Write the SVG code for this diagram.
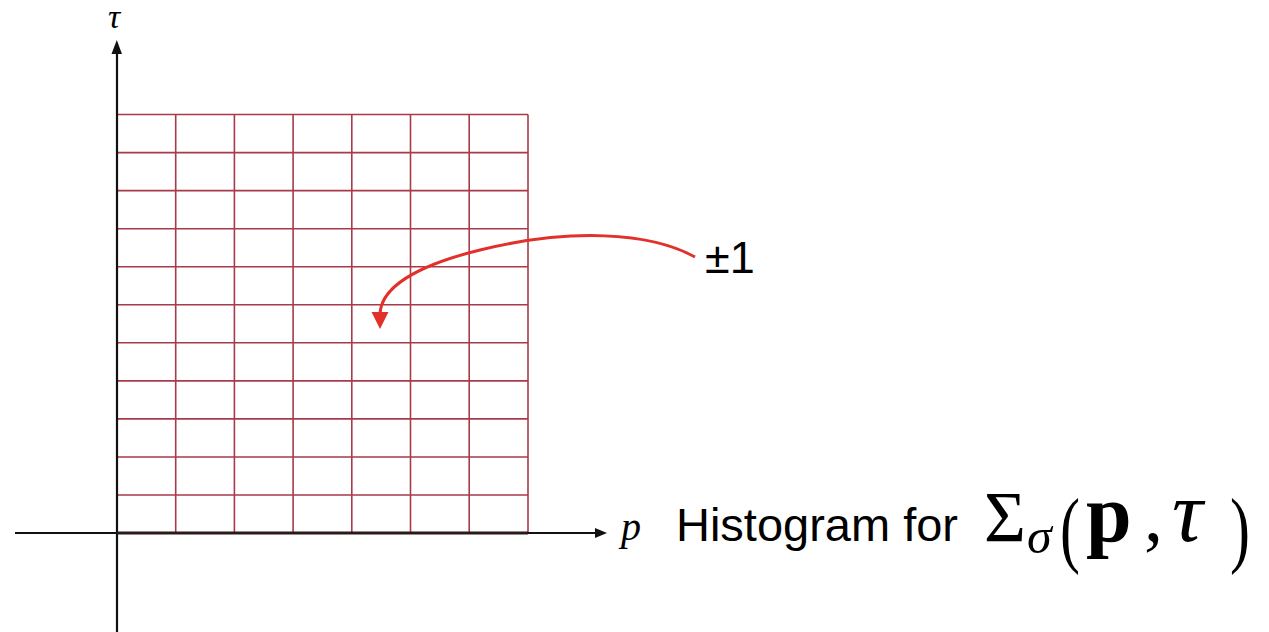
<svg xmlns="http://www.w3.org/2000/svg" width="1269" height="632" viewBox="0 0 1269 632">
<style>
.grid line{stroke:#a83a4a;stroke-width:1.6}
.axis{stroke:#111;stroke-width:2.2;fill:none}
.lbl{font-family:"Liberation Sans",Arial,sans-serif;fill:#000}
.math{font-family:"Liberation Serif","DejaVu Serif",serif;fill:#000}
</style>
<rect width="1269" height="632" fill="#fff"/>
<g id="grid" class="grid">
<line x1="117" y1="114.5" x2="528" y2="114.5"/>
<line x1="117" y1="152.6" x2="528" y2="152.6"/>
<line x1="117" y1="190.6" x2="528" y2="190.6"/>
<line x1="117" y1="228.7" x2="528" y2="228.7"/>
<line x1="117" y1="266.7" x2="528" y2="266.7"/>
<line x1="117" y1="304.8" x2="528" y2="304.8"/>
<line x1="117" y1="342.8" x2="528" y2="342.8"/>
<line x1="117" y1="380.9" x2="528" y2="380.9"/>
<line x1="117" y1="418.9" x2="528" y2="418.9"/>
<line x1="117" y1="457" x2="528" y2="457"/>
<line x1="117" y1="495" x2="528" y2="495"/>
<line x1="175.7" y1="114.5" x2="175.7" y2="533"/>
<line x1="234.4" y1="114.5" x2="234.4" y2="533"/>
<line x1="293.1" y1="114.5" x2="293.1" y2="533"/>
<line x1="351.8" y1="114.5" x2="351.8" y2="533"/>
<line x1="410.5" y1="114.5" x2="410.5" y2="533"/>
<line x1="469.2" y1="114.5" x2="469.2" y2="533"/>
<line x1="528" y1="114.5" x2="528" y2="533"/>
</g>
<g id="axes">
<line class="axis" x1="117" y1="632" x2="117" y2="53"/>
<line class="axis" x1="15" y1="533" x2="597" y2="533"/>
<line x1="117" y1="533" x2="528" y2="533" stroke="#2a1a1c" stroke-width="3"/>
<path d="M111.5,54 L116.8,40 L122,54 Z" fill="#111"/>
<path d="M595,528 L607,533 L595,538 Z" fill="#111"/>
<text class="math" x="108" y="28" font-size="34" font-style="italic">τ</text>
<text class="math" x="621" y="540" font-size="40" font-style="italic">p</text>
</g>
<g id="connectors">
<path d="M695,257 C650,232 570,228 480,250 C415,266 381,288 380,314" fill="none" stroke="#e2302a" stroke-width="3"/>
<path d="M371.5,312 L388.5,312 L380,329 Z" fill="#e2302a"/>
</g>
<g id="label-pm1">
<text class="lbl" x="705" y="273" font-size="45">±1</text>
</g>
<g id="label-histogram">
<text class="lbl" x="676" y="541" font-size="46" textLength="282" lengthAdjust="spacingAndGlyphs">Histogram for</text>
<text class="math" x="984" y="541" font-size="72">Σ</text>
<text class="math" x="1027" y="553" font-size="50" font-style="italic">σ</text>
<text class="math" font-size="60" transform="translate(1060,557) scale(1,1.4)">(</text>
<text class="math" x="1086" y="541" font-size="82" font-weight="bold">p</text>
<text class="math" x="1144" y="541" font-size="76">,</text>
<text class="math" x="1172" y="541" font-size="86" font-style="italic">τ</text>
<text class="math" font-size="60" transform="translate(1230,557) scale(1,1.4)">)</text>
</g>
</svg>
